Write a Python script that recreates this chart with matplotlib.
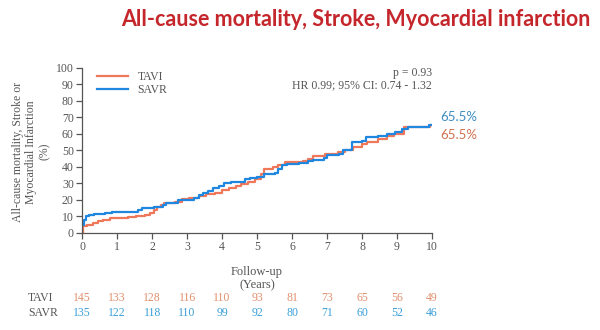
import matplotlib
matplotlib.use("Agg")
import matplotlib.pyplot as plt

# Kaplan-Meier style cumulative incidence (%), step times in years
tavi_t = [0, 0.02, 0.15, 0.3, 0.45, 0.6, 0.8, 1.3, 1.55, 1.8, 1.95, 2.05, 2.15, 2.25, 2.33,
          2.65, 2.85, 3.05, 3.35, 3.55, 3.8, 4.0, 4.2, 4.4, 4.55, 4.75, 4.95, 5.1, 5.2, 5.45,
          5.6, 5.8, 6.3, 6.45, 6.6, 6.95, 7.3, 7.5, 7.75, 8.0, 8.15, 8.45, 8.7, 8.9, 9.2, 9.95, 10]
tavi_v = [0, 4, 5, 6, 7, 8, 9, 9.5, 10, 11, 12, 14, 15.5, 17, 18,
          19, 20.5, 21.5, 22.5, 23.5, 24.5, 26, 27, 28.5, 29.5, 31, 33, 36, 38.5, 40,
          41, 43, 43.5, 45, 46.5, 48, 49, 50.5, 52, 54, 55, 57, 58.5, 60, 64.5, 65.5, 65.5]

savr_t = [0, 0.05, 0.1, 0.2, 0.35, 0.65, 0.85, 1.6, 1.7, 2.05, 2.3, 2.4, 2.75, 3.2, 3.35,
          3.45, 3.6, 3.75, 3.9, 4.05, 4.25, 4.65, 4.8, 5.0, 5.2, 5.5, 5.6, 5.7, 5.85, 6.2,
          6.45, 6.6, 6.9, 7.0, 7.35, 7.45, 7.7, 8.0, 8.1, 8.45, 8.7, 8.95, 9.15, 9.3, 9.9, 10]
savr_v = [5, 8, 10, 11, 11.5, 12, 12.7, 14, 15, 16, 17, 18, 20, 21, 23,
          24.5, 25.5, 27, 28.5, 30, 31, 32.5, 33.5, 34, 35.5, 36.5, 39, 41, 42, 42.5,
          43.5, 44.5, 45.5, 47, 48, 50, 55, 56, 58, 59, 60, 61.5, 63, 64.5, 65.5, 65.5]

years = list(range(11))
tavi_risk = [145, 133, 128, 116, 110, 93, 81, 73, 65, 56, 49]
savr_risk = [135, 122, 118, 110, 99, 92, 80, 71, 60, 52, 46]

tavi_end = 65.5
savr_end = 65.5

c_tavi = "#F0785A"
c_savr = "#1F87E0"
c_tavi_txt = "#E0906F"
c_savr_txt = "#3A9FD8"
grey = "#555555"

plt.rcParams["font.family"] = ["Liberation Serif", "DejaVu Serif"]

fig = plt.figure(figsize=(6, 3.3), dpi=100)
ax = fig.add_axes([0.137, 0.294, 0.583, 0.50])

ax.step(tavi_t, tavi_v, where="post", color=c_tavi, lw=1.6, label="TAVI")
ax.step(savr_t, savr_v, where="post", color=c_savr, lw=1.6, label="SAVR")

ax.set_xlim(0, 10)
ax.set_ylim(0, 100)
ax.set_xticks(years)
ax.set_yticks(range(0, 101, 10))
for s in ["top", "right"]:
    ax.spines[s].set_visible(False)
for s in ["left", "bottom"]:
    ax.spines[s].set_color(grey)
    ax.spines[s].set_linewidth(0.9)
ax.tick_params(colors=grey, labelsize=8.5, length=4, width=0.9, pad=2)

# y label drawn as a rotated text block left of the tick labels
fig.text(31 / 600, 0.54, "All-cause mortality, Stroke or\nMyocardial Infarction\n(%)",
         rotation=90, ha="center", va="center", multialignment="center",
         fontsize=8.5, color=grey, linespacing=1.15)
ax.set_xlabel("Follow-up\n(Years)", fontsize=9, color=grey, linespacing=1.2, labelpad=9)

leg = ax.legend(loc="upper left", bbox_to_anchor=(0.02, 1.03), frameon=False,
                fontsize=8.5, handlelength=2.6, labelspacing=0.1, borderpad=0.2)
for t in leg.get_texts():
    t.set_color(grey)

ax.text(10, 0.97, "p = 0.93", transform=ax.get_xaxis_transform(), ha="right", va="center",
        fontsize=8.5, color=grey)
ax.text(10, 0.895, "HR 0.99; 95% CI: 0.74 - 1.32", transform=ax.get_xaxis_transform(),
        ha="right", va="center", fontsize=8.5, color=grey)

ax.text(10.25, savr_end + 4.5, f"{savr_end}%", color="#3B8CC0", fontsize=9.5,
        family=["Lato", "DejaVu Sans"], va="center", ha="left", clip_on=False)
ax.text(10.25, tavi_end - 6, f"{tavi_end}%", color="#D07050", fontsize=9.5,
        family=["Lato", "DejaVu Sans"], va="center", ha="left", clip_on=False)

# number at risk
tr = ax.get_xaxis_transform()
ax.text(-1.55, -0.394, "TAVI", transform=tr, ha="left", va="center", fontsize=8.5, color=grey)
ax.text(-1.55, -0.485, "SAVR", transform=tr, ha="left", va="center", fontsize=8.5, color=grey)
for x, a, b in zip(years, tavi_risk, savr_risk):
    ax.text(x, -0.394, str(a), transform=tr, ha="center", va="center", fontsize=8.5,
            color=c_tavi_txt)
    ax.text(x, -0.485, str(b), transform=tr, ha="center", va="center", fontsize=8.5,
            color=c_savr_txt)

fig.text(0.593, 0.94, "All-cause mortality, Stroke, Myocardial infarction",
         ha="center", va="center", fontsize=15.5, fontweight="bold", color="#C4262B",
         family=["Lato", "DejaVu Sans"])

fig.savefig("out.png", dpi=100)
